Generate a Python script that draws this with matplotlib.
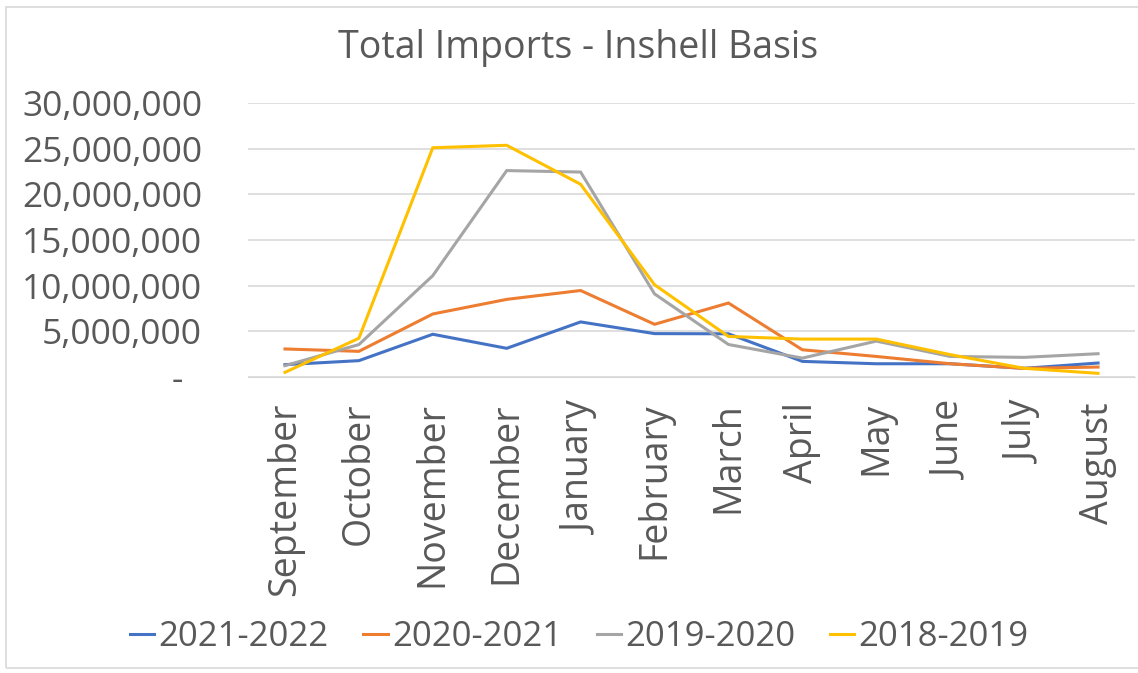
import numpy as np
import matplotlib.pyplot as plt
from matplotlib.ticker import FuncFormatter, MultipleLocator
from matplotlib.patches import Rectangle

months = ['September', 'October', 'November', 'December', 'January', 'February',
          'March', 'April', 'May', 'June', 'July', 'August']

# monthly imports, inshell basis (lbs)
s2021_2022 = [1350000, 1790000, 4680000, 3140000, 6030000, 4750000,
              4730000, 1710000, 1450000, 1450000, 950000, 1530000]
s2020_2021 = [3070000, 2810000, 6900000, 8500000, 9470000, 5770000,
              8100000, 2980000, 2250000, 1450000, 950000, 1090000]
s2019_2020 = [1240000, 3550000, 11100000, 22600000, 22440000, 9100000,
              3560000, 2070000, 3930000, 2250000, 2150000, 2550000]
s2018_2019 = [510000, 4240000, 25100000, 25370000, 21100000, 10100000,
              4440000, 4150000, 4150000, 2450000, 950000, 400000]

series = [('2021-2022', s2021_2022, '#4472C4'),
          ('2020-2021', s2020_2021, '#ED7D31'),
          ('2019-2020', s2019_2020, '#A5A5A5'),
          ('2018-2019', s2018_2019, '#FFC000')]

plt.rcParams['font.family'] = ['Open Sans', 'DejaVu Sans']
txt = '#595959'

fig = plt.figure(figsize=(11.38, 6.73), dpi=100)
ax = fig.add_axes([248 / 1138, 1 - 377 / 673, (1135 - 248) / 1138, (377 - 103) / 673])

x = np.arange(len(months))
for name, vals, col in series:
    ax.plot(x, vals, color=col, lw=2.2, label=name, solid_joinstyle='miter')

ax.set_xlim(-0.5, len(months) - 0.5)
ax.set_ylim(0, 30000000)
ax.yaxis.set_major_locator(MultipleLocator(5000000))
ax.yaxis.set_major_formatter(FuncFormatter(lambda v, p: '-  ' if v == 0 else f'{v:,.0f}'))
ax.grid(axis='y', color='#D9D9D9', lw=1.2)
ax.set_axisbelow(True)
for sp in ax.spines.values():
    sp.set_visible(False)
ax.spines['bottom'].set_visible(True)
ax.spines['bottom'].set_color('#D9D9D9')
ax.tick_params(axis='both', length=0, colors=txt)
ax.tick_params(axis='y', labelsize=25.5, pad=33)
ax.tick_params(axis='x', labelsize=27, pad=18)
ax.set_xticks(x)
ax.set_xticklabels(months, rotation=90)

fig.text(0.508, 0.928, 'Total Imports - Inshell Basis', ha='center', va='center',
         fontsize=27, color=txt)

leg = fig.legend(loc='center', bbox_to_anchor=(0.509, 1 - 637 / 673), ncol=4, frameon=False,
                 fontsize=25, handlelength=0.7, handletextpad=0.12, columnspacing=1.0)
for t in leg.get_texts():
    t.set_color(txt)

fig.patches.append(Rectangle((6 / 1138, 5 / 673), 1.0, 1 - 12 / 673, transform=fig.transFigure,
                             fill=False, edgecolor='#D9D9D9', lw=1.2))

fig.savefig('out.png', dpi=100, facecolor='white')
